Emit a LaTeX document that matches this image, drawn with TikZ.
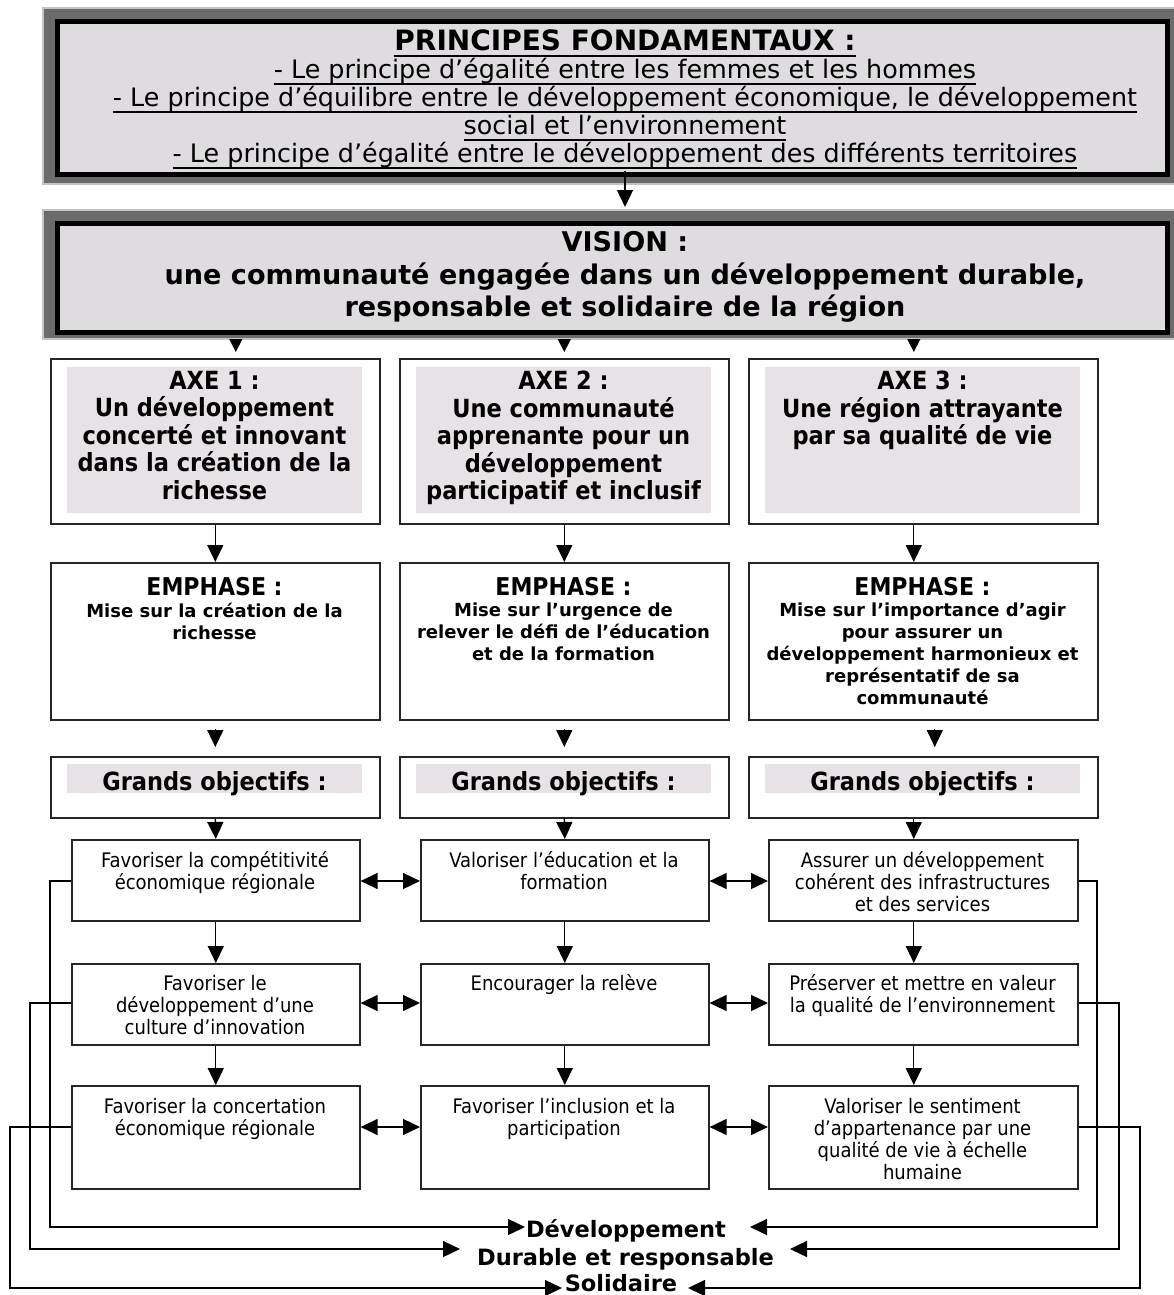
\documentclass[tikz,border=0pt]{standalone}
\usepackage{fontspec}
\setmainfont{DejaVu Sans}
\newfontfamily\condf{DejaVu Sans Condensed}
\usetikzlibrary{arrows.meta}
\definecolor{framegray}{HTML}{6B6B6B}
\definecolor{edgegray}{HTML}{C4C4C4}
\definecolor{fillgray}{HTML}{DEDCDF}
\definecolor{axegray}{HTML}{E6E2E5}
\newcommand\setfs[2]{\fontsize{#1}{#2}\selectfont\lineskiplimit=-100pt\lineskip=0pt}
\newcommand\myul[1]{\leavevmode\setbox0\hbox{#1}\rlap{\vrule width\wd0 height -4.6pt depth 6.4pt}\box0}
\begin{document}
\begin{tikzpicture}[x=1pt,y=-1pt,
  sz/.style 2 args={minimum width=#1pt,minimum height=#2pt},
  frame/.style={fill=framegray,draw=edgegray,line width=2pt,inner sep=0pt,anchor=north west},
  bigbox/.style={fill=fillgray,draw=black,line width=5pt,inner sep=0pt,anchor=north west},
  box/.style={draw=black!85,line width=1.6pt,fill=white,inner sep=0pt,anchor=north west},
  gbox/.style={fill=axegray,inner sep=0pt,anchor=north west},
  txt/.style={inner sep=0pt,align=center,anchor=north,execute at begin node=\strut},
  one/.style={inner sep=0pt,anchor=base},
  arr/.style={-{Triangle[length=17pt,width=16pt]},line width=1.3pt},
  sarr/.style={-{Triangle[length=13pt,width=13pt]},line width=1.3pt},
  darr/.style={{Triangle[length=17pt,width=16pt]}-{Triangle[length=17pt,width=16pt]},line width=1.3pt},
  axef/.style={font=\condf\bfseries\setfs{25}{27.5}},
  emhf/.style={font=\condf\bfseries\setfs{24.5}{26}},
  embf/.style={font=\bfseries\setfs{18}{22}},
  grf/.style={font=\condf\bfseries\setfs{25}{27}},
  objf/.style={font=\condf\setfs{20}{22}},
  botf/.style={font=\bfseries\setfs{22.5}{28}},
]
\useasboundingbox (0,0) rectangle (1174,1295);

% ---- Principes fondamentaux
\node[frame,sz={1132}{176}] (pf) at (42,7) {};
\node[bigbox,sz={1110.5}{152.5}] (pb) at (54.5,19) {};
\node[txt,font=\setfs{25.4}{28}] (pt) at (625,29.4) {%
\myul{\bfseries\fontsize{28}{28}\selectfont PRINCIPES FONDAMENTAUX :}\\
\myul{- Le principe d’égalité entre les femmes et les hommes}\\
\myul{- Le principe d’équilibre entre le développement économique, le développement}\\
\myul{social et l’environnement}\\
\myul{- Le principe d’égalité entre le développement des différents territoires}};

% ---- Vision
\node[frame,sz={1132}{129}] (vf) at (42,209) {};
\node[bigbox,sz={1110.5}{109.5}] (vb) at (54.5,220.5) {};
\node[txt,font=\bfseries\setfs{27.1}{32.5}] (vt) at (625,231.3) {VISION :\\une communauté engagée dans un développement durable,\\responsable et solidaire de la région};

\draw[arr,shorten >=2pt] (pt.south) -- (vf.north -| pt.south);

% ---- Axes
\node[box,sz={329}{165}] (a1) at (50,358) {};
\node[box,sz={329}{165}] (a2) at (399,358) {};
\node[box,sz={349}{165}] (a3) at (748,358) {};
\node[gbox,sz={295}{146}] (a1g) at (67,367) {};
\node[gbox,sz={295}{146}] (a2g) at (416,367) {};
\node[gbox,sz={315}{146}] (a3g) at (765,367) {};
\node[txt,axef] (a1t) at (214.5,370.8) {AXE 1 :\\Un développement\\concerté et innovant\\dans la création de la\\richesse};
\node[txt,axef] (a2t) at (563.5,370.8) {AXE 2 :\\Une communauté\\apprenante pour un\\développement\\participatif et inclusif};
\node[txt,axef] (a3t) at (922.5,370.8) {AXE 3 :\\Une région attrayante\\par sa qualité de vie};

\draw[sarr] ([xshift=20.5pt]a1.north |- vf.south) -- ++(0,12);
\draw[sarr] (a2.north |- vf.south) -- ++(0,12);
\draw[sarr] ([xshift=-9.5pt]a3.north |- vf.south) -- ++(0,12);

% ---- Emphase
\node[box,sz={329}{157}] (e1) at (50,562) {};
\node[box,sz={329}{157}] (e2) at (399,562) {};
\node[box,sz={349}{157}] (e3) at (748,562) {};
\node[one,emhf] (e1h) at (214.5,595) {EMPHASE :};
\node[one,emhf] (e2h) at (563.5,595) {EMPHASE :};
\node[one,emhf] (e3h) at (922.5,595) {EMPHASE :};
\node[txt,embf] (e1t) at (214.5,602.6) {Mise sur la création de la\\richesse};
\node[txt,embf] (e2t) at (563.5,602.6) {Mise sur l’urgence de\\relever le défi de l’éducation\\et de la formation};
\node[txt,embf] (e3t) at (922.5,602.6) {Mise sur l’importance d’agir\\pour assurer un\\développement harmonieux et\\représentatif de sa\\communauté};

\draw[arr] (a1.south) -- (e1.north);
\draw[arr] (a2.south) -- (e2.north);
\draw[arr] ([xshift=-9.5pt]a3.south) -- ([xshift=-9.5pt]e3.north);

% ---- Grands objectifs
\node[box,sz={329}{61}] (g1) at (50,756) {};
\node[box,sz={329}{61}] (g2) at (399,756) {};
\node[box,sz={349}{61}] (g3) at (748,756) {};
\node[gbox,sz={295}{29}] (g1g) at (67,764) {};
\node[gbox,sz={295}{29}] (g2g) at (416,764) {};
\node[gbox,sz={315}{29}] (g3g) at (765,764) {};
\node[one,grf] (g1t) at (214.5,790) {Grands objectifs :};
\node[one,grf] (g2t) at (563.5,790) {Grands objectifs :};
\node[one,grf] (g3t) at (922.5,790) {Grands objectifs :};

\draw[arr,shorten <=8pt,shorten >=9pt] (e1.south) -- (g1.north);
\draw[arr,shorten <=8pt,shorten >=9pt] (e2.south) -- (g2.north);
\draw[arr,shorten <=8pt,shorten >=9pt] ([xshift=11.5pt]e3.south) -- ([xshift=11.5pt]g3.north);

% ---- Objectifs
\node[box,sz={288}{81}] (o11) at (71,839) {};
\node[box,sz={288}{81}] (o12) at (71,963) {};
\node[box,sz={288}{103}] (o13) at (71,1085) {};
\node[box,sz={288}{81}] (o21) at (420,839) {};
\node[box,sz={288}{81}] (o22) at (420,963) {};
\node[box,sz={288}{103}] (o23) at (420,1085) {};
\node[box,sz={309}{81}] (o31) at (768,839) {};
\node[box,sz={309}{81}] (o32) at (768,963) {};
\node[box,sz={309}{103}] (o33) at (768,1085) {};

\node[txt,objf] (o11t) at (215,851.6) {Favoriser la compétitivité\\économique régionale};
\node[txt,objf] (o12t) at (215,974.6) {Favoriser le\\développement d’une\\culture d’innovation};
\node[txt,objf] (o13t) at (215,1097.6) {Favoriser la concertation\\économique régionale};
\node[txt,objf] (o21t) at (564,851.6) {Valoriser l’éducation et la\\formation};
\node[txt,objf] (o22t) at (564,974.6) {Encourager la relève};
\node[txt,objf] (o23t) at (564,1097.6) {Favoriser l’inclusion et la\\participation};
\node[txt,objf] (o31t) at (922.5,851.6) {Assurer un développement\\cohérent des infrastructures\\et des services};
\node[txt,objf] (o32t) at (922.5,974.6) {Préserver et mettre en valeur\\la qualité de l’environnement};
\node[txt,objf] (o33t) at (922.5,1097.6) {Valoriser le sentiment\\d’appartenance par une\\qualité de vie à échelle\\humaine};

\draw[arr] (g1.south) -- (o11.north);
\draw[arr] (g2.south) -- (o21.north);
\draw[arr] ([xshift=-9.5pt]g3.south) -- ([xshift=-9.5pt]o31.north);
\draw[arr] (o11.south) -- (o12.north);
\draw[arr] (o12.south) -- (o13.north);
\draw[arr] (o21.south) -- (o22.north);
\draw[arr] (o22.south) -- (o23.north);
\draw[arr] ([xshift=-9.5pt]o31.south) -- ([xshift=-9.5pt]o32.north);
\draw[arr] ([xshift=-9.5pt]o32.south) -- ([xshift=-9.5pt]o33.north);

\draw[darr] (o11.east |- 0,881) -- (o21.west |- 0,881);
\draw[darr] (o21.east |- 0,881) -- (o31.west |- 0,881);
\draw[darr] (o12.east |- 0,1003) -- (o22.west |- 0,1003);
\draw[darr] (o22.east |- 0,1003) -- (o32.west |- 0,1003);
\draw[darr] (o13.east |- 0,1127) -- (o23.west |- 0,1127);
\draw[darr] (o23.east |- 0,1127) -- (o33.west |- 0,1127);

% ---- Bottom
\node[one,botf] (dev) at (626,1237) {Développement};
\node[one,botf] (dur) at (625.5,1265) {Durable et responsable};
\node[one,botf] (sol) at (621,1291) {Solidaire};
\coordinate (devL) at (525,1227);
\coordinate (devR) at (750,1227);
\coordinate (durL) at (460,1249);
\coordinate (durR) at (790,1249);
\coordinate (solL) at (562,1288);
\coordinate (solR) at (688,1288);

\draw[arr] (o11.west |- 0,881) -- (50,881) |- (devL);
\draw[arr] (o12.west |- 0,1003) -- (30,1003) |- (durL);
\draw[arr] (o13.west |- 0,1127) -- (10,1127) |- (solL);
\draw[arr] (o31.east |- 0,881) -- (1097,881) |- (devR);
\draw[arr] (o32.east |- 0,1003) -- (1119,1003) |- (durR);
\draw[arr] (o33.east |- 0,1127) -- (1140,1127) |- (solR);
\end{tikzpicture}
\end{document}
